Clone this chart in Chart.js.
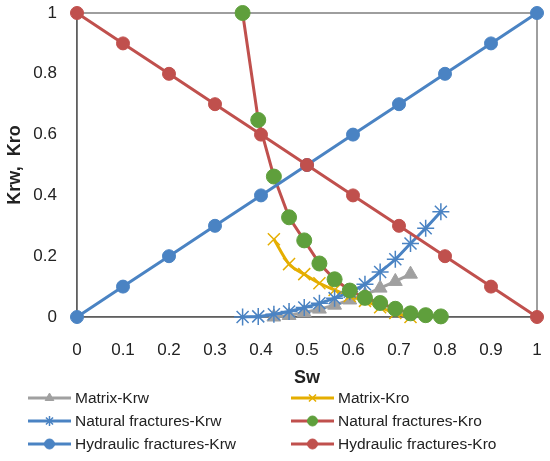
<!DOCTYPE html>
<html>
<head>
<meta charset="utf-8">
<script src="https://cdn.jsdelivr.net/npm/chart.js@4"></script>
<style>
  body { margin: 0; background: #fff; }
  #wrap { width: 550px; height: 461px; position: relative; }
</style>
</head>
<body>
<div id="wrap"><canvas id="krChart"></canvas></div>
<script>
// Sw values and relative permeabilities
const hydSw = [0, 0.1, 0.2, 0.3, 0.4, 0.5, 0.6, 0.7, 0.8, 0.9, 1];
const hydKrw = [0, 0.1, 0.2, 0.3, 0.4, 0.5, 0.6, 0.7, 0.8, 0.9, 1];
const hydKro = [1, 0.9, 0.8, 0.7, 0.6, 0.5, 0.4, 0.3, 0.2, 0.1, 0];

const natSw = [0.36, 0.394, 0.428, 0.461, 0.494, 0.527, 0.56, 0.593, 0.626, 0.659, 0.692, 0.725, 0.758, 0.791];
const natKrw = [0, 0.002, 0.009, 0.018, 0.031, 0.045, 0.062, 0.083, 0.108, 0.148, 0.19, 0.242, 0.292, 0.346];
const natKro = [1, 0.648, 0.462, 0.328, 0.252, 0.176, 0.124, 0.087, 0.063, 0.046, 0.027, 0.012, 0.006, 0.002];

const matSw = [0.428, 0.461, 0.494, 0.527, 0.56, 0.593, 0.626, 0.659, 0.692, 0.725];
const matKrw = [0, 0.005, 0.015, 0.026, 0.039, 0.056, 0.073, 0.095, 0.117, 0.141];
const matKro = [0.256, 0.174, 0.141, 0.111, 0.089, 0.069, 0.053, 0.032, 0.013, 0];

const xTicks = [0, 0.1, 0.2, 0.3, 0.4, 0.5, 0.6, 0.7, 0.8, 0.9, 1];
const yTicks = [0, 0.2, 0.4, 0.6, 0.8, 1];

const toPts = (xs, ys) => xs.map((x, i) => ({ x: x, y: ys[i] }));

const BLUE = "#4a83c3", RED = "#c0504d", GREEN = "#5f9f3c", GRAY = "#a0a0a0", GOLD = "#e5ae00";
const FONT = "'Liberation Sans', Arial, sans-serif";

// grey frame on top/right of the plot area
const frame = {
    id: "frame",
    beforeDatasetsDraw(chart) {
        const a = chart.chartArea, ctx = chart.ctx;
        ctx.save();
        ctx.strokeStyle = "#7f7f7f";
        ctx.lineWidth = 1.5;
        ctx.strokeRect(a.left, a.top, a.right - a.left, a.bottom - a.top);
        ctx.restore();
    },
};

// two column legend like the Excel one
const gridLegend = {
    id: "gridLegend",
    afterDraw(chart) {
        const ctx = chart.ctx;
        const colX = [28, 291];
        const rowY = [398, 421, 444];
        chart.data.datasets.forEach((ds, i) => {
            const x = colX[i % 2], y = rowY[Math.floor(i / 2)];
            ctx.save();
            ctx.strokeStyle = ds.borderColor;
            ctx.lineWidth = ds.borderWidth;
            ctx.beginPath();
            ctx.moveTo(x, y);
            ctx.lineTo(x + 43, y);
            ctx.stroke();
            ctx.fillStyle = ds.pointBackgroundColor;
            ctx.strokeStyle = ds.pointBorderColor;
            ctx.lineWidth = ds.pointBorderWidth;
            if (Chart.helpers && Chart.helpers.drawPoint) {
                Chart.helpers.drawPoint(ctx, {
                    pointStyle: ds.pointStyle,
                    radius: 5,
                    rotation: 0,
                    borderWidth: ds.pointBorderWidth,
                }, x + 21.5, y);
            } else {
                ctx.beginPath();
                ctx.arc(x + 21.5, y, 5, 0, Math.PI * 2);
                ctx.fill();
            }
            ctx.fillStyle = "#222";
            ctx.font = "15.5px " + FONT;
            ctx.textBaseline = "middle";
            ctx.textAlign = "left";
            ctx.fillText(ds.label, x + 47, y + 1);
            ctx.restore();
        });
    },
};

const ctxKr = document.getElementById("krChart");
new Chart(ctxKr, {
    type: "scatter",
    data: {
        datasets: [
            {
                label: "Matrix-Krw",
                data: toPts(matSw, matKrw),
                borderColor: GRAY, borderWidth: 3,
                pointStyle: "triangle", pointRadius: 8,
                pointBackgroundColor: GRAY, pointBorderColor: GRAY, pointBorderWidth: 1,
                order: 6,
            },
            {
                label: "Matrix-Kro",
                data: toPts(matSw, matKro),
                borderColor: GOLD, borderWidth: 3, cubicInterpolationMode: "monotone",
                pointStyle: "crossRot", pointRadius: 8.5,
                pointBackgroundColor: GOLD, pointBorderColor: GOLD, pointBorderWidth: 1.5,
                order: 5,
            },
            {
                label: "Natural fractures-Krw",
                data: toPts(natSw, natKrw),
                borderColor: BLUE, borderWidth: 3, cubicInterpolationMode: "monotone",
                pointStyle: "star", pointRadius: 8.5,
                pointBackgroundColor: BLUE, pointBorderColor: BLUE, pointBorderWidth: 1.5,
                order: 4,
            },
            {
                label: "Natural fractures-Kro",
                data: toPts(natSw, natKro),
                borderColor: RED, borderWidth: 3,
                pointStyle: "circle", pointRadius: 7.5,
                pointBackgroundColor: GREEN, pointBorderColor: GREEN, pointBorderWidth: 1,
                order: 3,
            },
            {
                label: "Hydraulic fractures-Krw",
                data: toPts(hydSw, hydKrw),
                borderColor: BLUE, borderWidth: 3,
                pointStyle: "circle", pointRadius: 6.5,
                pointBackgroundColor: BLUE, pointBorderColor: BLUE, pointBorderWidth: 1,
                order: 2,
            },
            {
                label: "Hydraulic fractures-Kro",
                data: toPts(hydSw, hydKro),
                borderColor: RED, borderWidth: 3,
                pointStyle: "circle", pointRadius: 6.5,
                pointBackgroundColor: RED, pointBorderColor: RED, pointBorderWidth: 1,
                order: 1,
            },
        ],
    },
    options: {
        responsive: true,
        maintainAspectRatio: false,
        animation: false,
        showLine: true,
        clip: false,
        layout: { autoPadding: false, padding: { left: 2, right: 13, top: 13, bottom: 72 } },
        plugins: {
            legend: { display: false },
            tooltip: { enabled: false },
        },
        scales: {
            x: {
                type: "linear",
                min: 0, max: 1,
                afterBuildTicks: (s) => { s.ticks = xTicks.map((v) => ({ value: v })); },
                afterFit: (s) => {
                    s.height = 72;
                    s.paddingLeft = 0; s.paddingRight = 0;
                },
                grid: { display: false, drawTicks: false },
                border: { display: true, color: "#000", width: 1.5 },
                ticks: {
                    color: "#222", padding: 23, font: { family: FONT, size: 17 },
                    callback: (v) => String(v),
                },
                title: {
                    display: true, text: "Sw", color: "#222",
                    font: { family: FONT, size: 18, weight: "bold" },
                    padding: { top: 7, bottom: 0 },
                },
            },
            y: {
                type: "linear",
                min: 0, max: 1,
                afterBuildTicks: (s) => { s.ticks = yTicks.map((v) => ({ value: v })); },
                afterFit: (s) => {
                    s.width = 75;
                    s.paddingTop = 0; s.paddingBottom = 0;
                },
                grid: { display: false, drawTicks: false },
                border: { display: true, color: "#000", width: 1.5 },
                ticks: {
                    color: "#222", padding: 20, font: { family: FONT, size: 17 },
                    callback: (v) => String(v),
                },
                title: {
                    display: true, text: "Krw,  Kro", color: "#222",
                    font: { family: FONT, size: 18, weight: "bold" },
                    padding: { top: 2, bottom: 6 },
                },
            },
        },
    },
    plugins: [frame, gridLegend],
});
</script>
</body>
</html>
